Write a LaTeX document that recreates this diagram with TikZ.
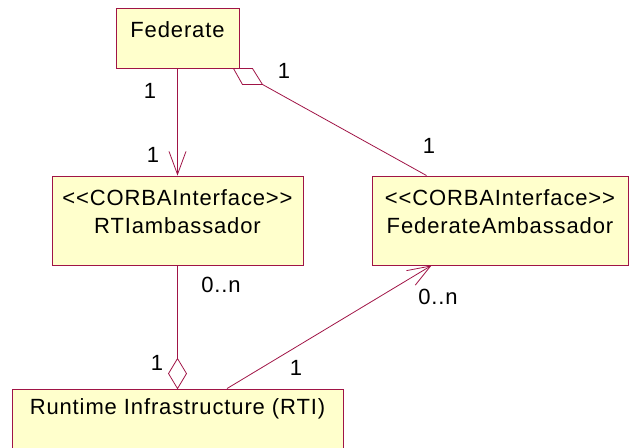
\documentclass[tikz,border=0pt]{standalone}
\usepackage{fontspec}
\setmainfont{Liberation Sans}[LetterSpace=4]
\usetikzlibrary{arrows.meta,calc}
\definecolor{umlred}{RGB}{160,20,70}
\definecolor{umlfill}{RGB}{255,255,204}
\begin{document}
\begin{tikzpicture}[x=1pt,y=-1pt,
  box/.style={draw=umlred,fill=umlfill,line width=0.9pt,rectangle,inner sep=0pt},
  txt/.style={inner sep=0pt,align=center,font=\fontsize{22}{28}\selectfont},
  conn/.style={draw=umlred,line width=0.8pt},
  arr/.style={conn,-{Straight Barb[length=23pt,width=17pt,line width=0.8pt]}},
  lbl/.style={inner sep=0pt,font=\fontsize{22}{25}\selectfont}]
\clip (0,0) rectangle (629,447);
% boxes
\node[box,minimum width=123pt,minimum height=60pt] (fed) at (177.5,38) {};
\node[txt] (fedt) at (177.5,30) {Federate};
\node[box,minimum width=251pt,minimum height=89pt] (rtiamb) at (177.5,220.5) {};
\node[txt] (rtiambt) at (177.5,212) {<{}<CORBAInterface>{}>\\RTIambassador};
\node[box,minimum width=256pt,minimum height=89pt] (fedamb) at (500,220.5) {};
\node[txt] (fedambt) at (500,211.5) {<{}<CORBAInterface>{}>\\FederateAmbassador};
\node[box,minimum width=331pt,minimum height=81pt] (rti) at (177.5,429.5) {};
\node[txt] (rtit) at (177.5,409) {Runtime Infrastructure (RTI)};
% Federate -> RTIambassador
\draw[arr] (fed.south) -- (rtiamb.north);
% Federate aggregation -> FederateAmbassador
\coordinate (da) at ($(fed.south east)+(-6,0)$);
\coordinate (db) at ($(fed.south east)+(13,0)$);
\coordinate (dc) at ($(fed.south east)+(23,16)$);
\coordinate (dd) at ($(fed.south east)+(3,16)$);
\draw[conn,fill=white] (da) -- (db) -- (dc) -- (dd) -- cycle;
\draw[conn] (dc) -- ($(fedamb.north west)+(55,0)$);
% RTIambassador aggregation RTI
\coordinate (ra) at ($(rti.north)+(0,-30)$);
\coordinate (rb) at ($(rti.north)+(9,-15)$);
\coordinate (rc) at ($(rti.north)+(-9,-15)$);
\draw[conn] (rtiamb.south) -- (ra);
\draw[conn,fill=white] (ra) -- (rb) -- (rti.north) -- (rc) -- cycle;
% RTI -> FederateAmbassador
\draw[arr] ($(rti.north)+(49.5,0)$) -- ($(fedamb.south west)+(60,0)$);
% labels
\node[lbl] (l1) at (150,91) {1};
\node[lbl] (l2) at (284,71) {1};
\node[lbl] (l3) at (153,155) {1};
\node[lbl] (l4) at (429,146) {1};
\node[lbl] (l5) at (221,285) {0..n};
\node[lbl] (l6) at (157,363) {1};
\node[lbl] (l7) at (296,368) {1};
\node[lbl] (l8) at (438,297) {0..n};
\end{tikzpicture}
\end{document}
